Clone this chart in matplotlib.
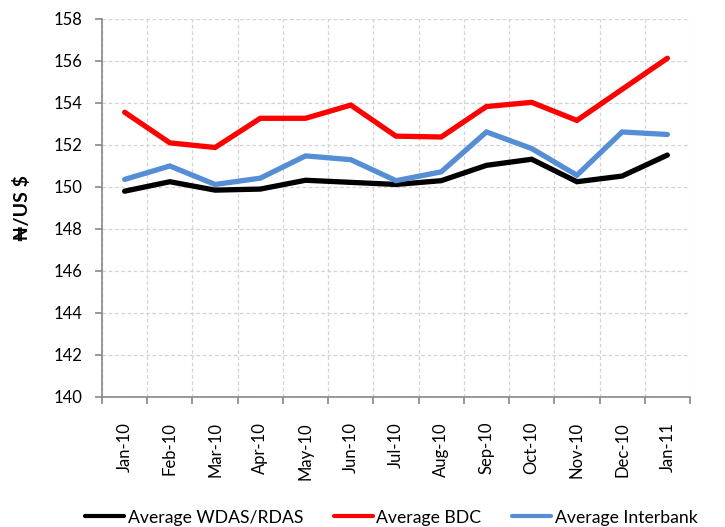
import matplotlib.pyplot as plt
import numpy as np

plt.rcParams["font.family"] = ["Lato", "DejaVu Sans"]

# ---- data -------------------------------------------------------------
months = ["Jan-10", "Feb-10", "Mar-10", "Apr-10", "May-10", "Jun-10", "Jul-10",
          "Aug-10", "Sep-10", "Oct-10", "Nov-10", "Dec-10", "Jan-11"]
wdas = [149.80, 150.25, 149.85, 149.90, 150.32, 150.22, 150.12,
        150.30, 151.03, 151.32, 150.25, 150.52, 151.52]
bdc = [153.56, 152.10, 151.88, 153.27, 153.27, 153.90, 152.42,
       152.38, 153.83, 154.03, 153.17, 154.65, 156.13]
interbank = [150.36, 151.00, 150.12, 150.42, 151.48, 151.30, 150.30,
             150.72, 152.62, 151.83, 150.56, 152.62, 152.50]

SERIES = [("Average WDAS/RDAS", wdas, "#000000"),
          ("Average BDC", bdc, "#FF0000"),
          ("Average Interbank", interbank, "#558ED5")]

# ---- figure -----------------------------------------------------------
fig = plt.figure(figsize=(7.25, 5.27), dpi=100)
ax = fig.add_axes([0.1407, 0.2467, 0.8110, 0.7173])

x = np.arange(len(months))
handles = []
for name, vals, col in SERIES:
    h, = ax.plot(x, vals, color=col, lw=3.8, solid_capstyle="round",
                 solid_joinstyle="miter", label=name, zorder=3)
    handles.append(h)

ax.set_xlim(-0.5, len(months) - 0.5)
ax.set_ylim(140, 158)
ax.set_yticks(np.arange(140, 159, 2))

# category boundaries carry the ticks and the vertical grid
ax.set_xticks(np.arange(-0.5, len(months) - 0.4, 1.0))
ax.set_xticklabels([])
ax.set_xticks(x, minor=True)
ax.set_xticklabels(months, minor=True, rotation=90, fontsize=12)
ax.tick_params(axis="x", which="minor", length=0, pad=18)
ax.tick_params(axis="x", which="major", length=5, color="#888888", width=1.2)
ax.tick_params(axis="y", length=5, color="#888888", width=1.2, pad=9,
               labelsize=12)

ax.grid(True, which="major", color="#d4d4d4", lw=0.9, ls=(0, (3, 2)))
ax.set_axisbelow(True)
for s in ("top", "right"):
    ax.spines[s].set_visible(False)
for s in ("left", "bottom"):
    ax.spines[s].set_color("#888888")
    ax.spines[s].set_linewidth(1.2)

ax.set_ylabel("\u20a6/US $", fontsize=14, fontweight="bold", labelpad=16)

leg = fig.legend(handles=handles, loc="center left",
                 bbox_to_anchor=(0.108, 0.018), ncol=3, frameon=False,
                 fontsize=12.7, handlelength=2.2, handletextpad=0.2,
                 columnspacing=1.75, borderaxespad=0)
for ln in leg.get_lines():
    ln.set_linewidth(3)

fig.savefig("out.png", dpi=100)
